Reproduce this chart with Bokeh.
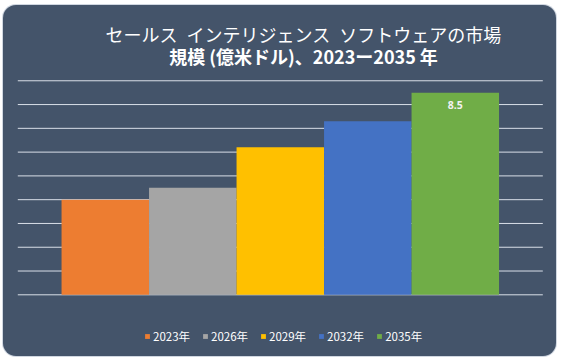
from bokeh.plotting import figure
from bokeh.models import ColumnDataSource, Label, Legend, LegendItem, Range1d
from bokeh.embed import file_html
from bokeh.resources import INLINE
from bokeh.core.properties import value

# ---- data ----
title_line1 = "セールス\u2002インテリジェンス\u2002ソフトウェアの市場"
title_line2 = "規模 (億米ドル)、2023ー2035 年"
years = ["2023年", "2026年", "2029年", "2032年", "2035年"]
values = [4.0, 4.5, 6.2, 7.3, 8.5]
colors = ["#ED7D31", "#A5A5A5", "#FFC000", "#4472C4", "#70AD47"]
grid_ticks = [0, 1, 2, 3, 4, 5, 6, 7, 8, 9]
labeled_index = [4]

# ---- layout constants (pixels inside the card) ----
W, H = 553, 351
PX_X = 87.5           # pixels per category unit
PX_Y = 23.78          # pixels per value unit
PLOT_LEFT = 14.3      # left edge of plot area
BASE_Y = 289.3        # baseline from top

positions = list(range(len(years)))
x0 = -1 - PLOT_LEFT / PX_X
y0 = -(H - BASE_Y) / PX_Y

def dx(px):
    return x0 + px / PX_X

def dy(py):
    return (BASE_Y - py) / PX_Y

src = ColumnDataSource(dict(x=positions, top=values, color=colors, label=years))
grid_src = ColumnDataSource(dict(y=grid_ticks,
                                 xs=[-1] * len(grid_ticks),
                                 xe=[len(years)] * len(grid_ticks)))
lab_src = ColumnDataSource(dict(
    x=[positions[i] for i in labeled_index],
    y=[values[i] for i in labeled_index],
    text=[f"{values[i]:.1f}" for i in labeled_index],
))

CJK = "Noto Sans CJK JP"

p = figure(width=W, height=H,
           x_range=Range1d(x0, x0 + W / PX_X), y_range=Range1d(y0, y0 + H / PX_Y),
           output_backend="svg", toolbar_location=None,
           min_border=0)
p.margin = (5, 0, 0, 3)
p.styles = {"background-color": "#44546A", "border-radius": "13px",
            "box-shadow": "0 0 0 1px #D0D7E1"}
p.border_fill_color = None
p.background_fill_color = None
p.outline_line_color = None
p.xaxis.visible = False
p.yaxis.visible = False
p.grid.visible = False

p.segment(x0="xs", x1="xe", y0="y", y1="y", source=grid_src,
          line_color="#D9DFE8", line_width=1)

r = p.vbar(x="x", top="top", bottom=0, width=1.0, fill_color="color",
           line_color=None, source=src)

p.text(x="x", y="y", text="text", source=lab_src, y_offset=12,
       text_align="center", text_baseline="middle", text_color="#F2F2F2",
       text_font=value("Open Sans"), text_font_style="bold", text_font_size="10.5px")

legend = Legend(
    items=[LegendItem(label=years[i], renderers=[r], index=i) for i in positions],
    orientation="horizontal", location=(141, 12),
    glyph_width=6, glyph_height=6, label_standoff=3, spacing=12,
    padding=0, margin=0, border_line_color=None, background_fill_alpha=0,
    label_text_color="#FFFFFF", label_text_font_size="11.5px",
    label_text_font=CJK, label_height=12, label_text_baseline="middle",
)
p.add_layout(legend)

p.add_layout(Label(x=dx(300), y=dy(28), text=title_line1, text_align="center",
                   text_baseline="middle", text_color="#FFFFFF",
                   text_font=CJK, text_font_size="18px"))
p.add_layout(Label(x=dx(300), y=dy(50.5), text=title_line2, text_align="center",
                   text_baseline="middle", text_color="#FFFFFF",
                   text_font=CJK, text_font_size="18px", text_font_style="bold"))

open("out.html", "w").write(file_html(p, INLINE))
